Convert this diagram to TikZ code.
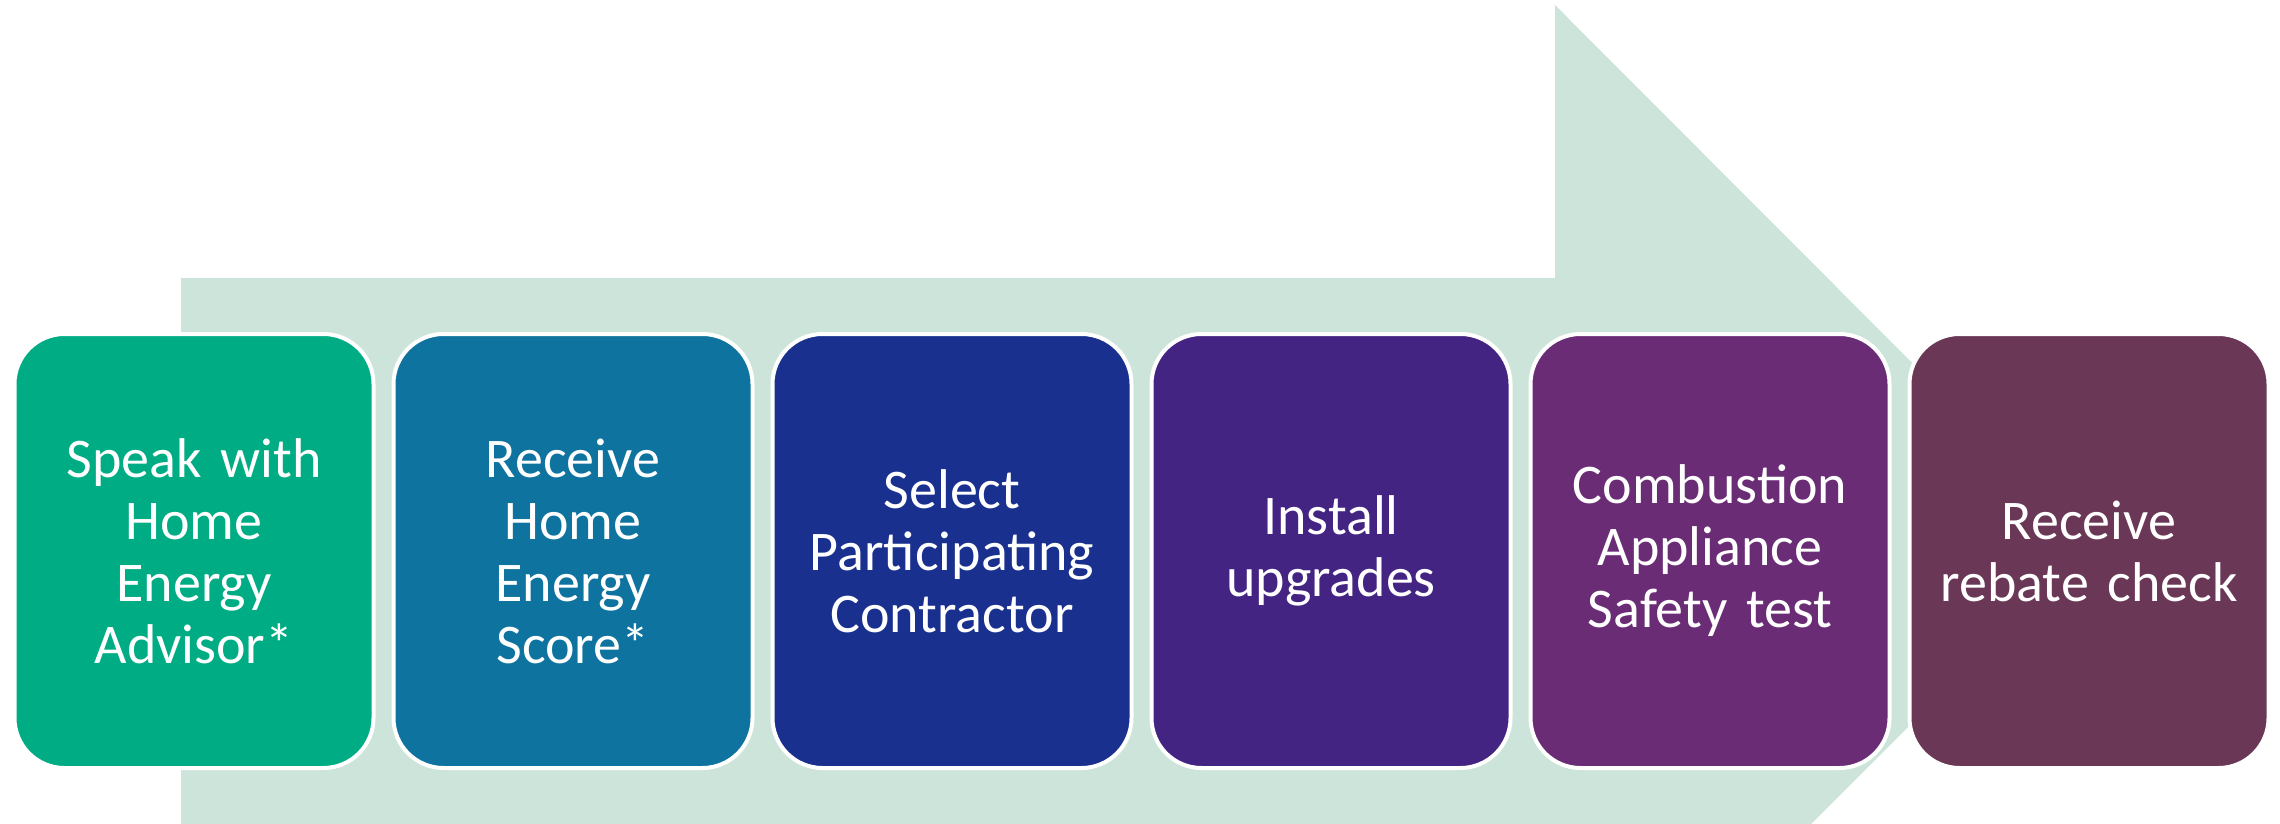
\documentclass[tikz,border=0pt]{standalone}
\usepackage{fontspec}
\setmainfont{Carlito}
\usetikzlibrary{positioning}

\definecolor{arrowbg}{RGB}{205,228,218}
\definecolor{advisorfill}{RGB}{0,172,132}
\definecolor{scorefill}{RGB}{14,115,158}
\definecolor{contractorfill}{RGB}{25,48,143}
\definecolor{installfill}{RGB}{68,36,131}
\definecolor{testfill}{RGB}{107,44,118}
\definecolor{rebatefill}{RGB}{106,56,86}

\begin{document}
\begin{tikzpicture}[x=0.5pt, y=-0.5pt,
    stepbox/.style={rectangle, rounded corners=25pt, draw=white, line width=2pt,
        minimum width=179.5pt, minimum height=217pt, text width=170pt, align=center,
        text=white, font=\fontsize{28}{31}\selectfont, inner sep=0pt}]

    \useasboundingbox (0,0) rectangle (2280,824);

    \fill[arrowbg] (181,278) -- (1555,278) -- (1555,5) -- (2092,543) -- (1811,824) -- (181,824) -- cycle;

    \node[stepbox, fill=advisorfill] (advisor) at (194,551) {Speak with\\Home\\Energy\\Advisor*};
    \node[stepbox, fill=scorefill, right=8pt of advisor] (score) {Receive\\Home\\Energy\\Score*};
    \node[stepbox, fill=contractorfill, right=8pt of score] (contractor) {Select\\Participating\\Contractor};
    \node[stepbox, fill=installfill, right=8pt of contractor] (install) {Install\\upgrades};
    \node[stepbox, fill=testfill, right=8pt of install] (safetytest) {Combustion\\Appliance\\Safety test};
    \node[stepbox, fill=rebatefill, right=8pt of safetytest] (rebate) {Receive\\rebate check};

\end{tikzpicture}
\end{document}
